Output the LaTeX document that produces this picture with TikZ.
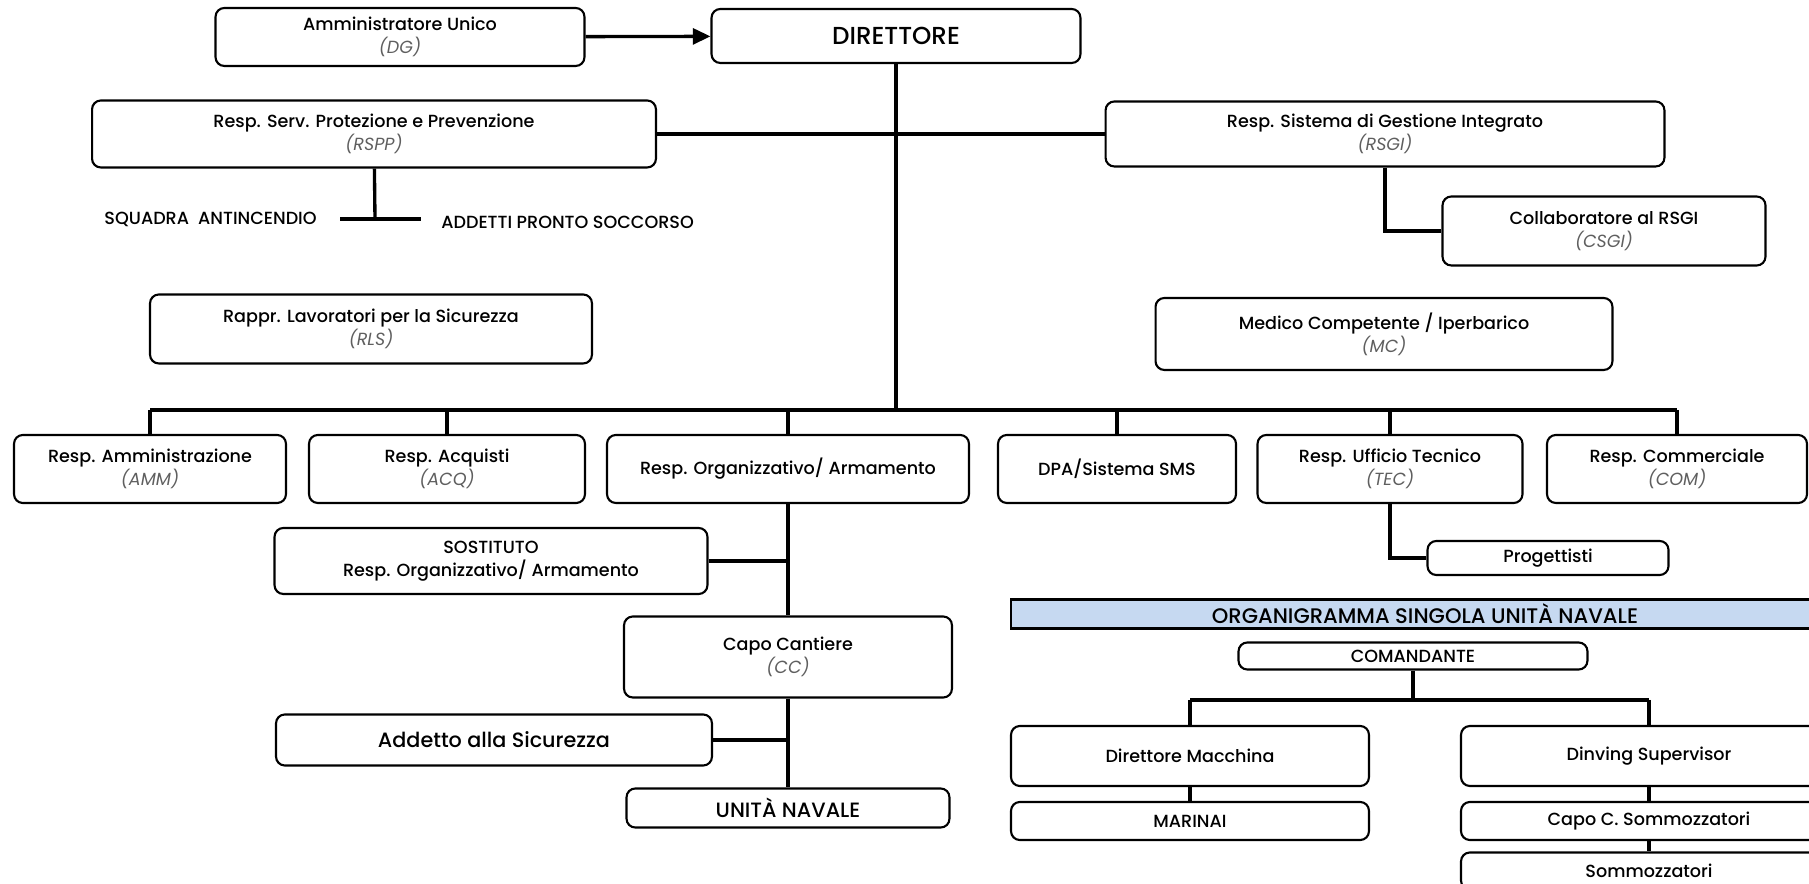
\documentclass[tikz,border=0pt]{standalone}
\usepackage{fontspec}
\setmainfont{Poppins}[UprightFont={* Medium}, ItalicFont={* Italic}]
\usetikzlibrary{arrows.meta}
\definecolor{bandblue}{HTML}{C6D9F1}
\definecolor{siglagray}{HTML}{5F5F5F}
\newcommand{\sigla}[1]{{\color{siglagray}\itshape (#1)}}

\begin{document}
\begin{tikzpicture}[
    x=0.02cm, y=-0.02cm,
    box/.style={rectangle, rounded corners=5pt, draw, line width=1.2pt, align=center, inner sep=1pt, font=\fontsize{10}{13}\selectfont},
    bigbox/.style={box, font=\fontsize{11.8}{14}\selectfont},
    band/.style={rectangle, draw, line width=1.2pt, fill=bandblue, inner sep=1pt, font=\fontsize{12}{14}\selectfont},
    label/.style={inner sep=0pt, font=\fontsize{10}{12}\selectfont},
    link/.style={line width=1.9pt}
]
\useasboundingbox (0,0) rectangle (1809,884);
\clip (0,0) rectangle (1809,884);

% vertice
\node[box, minimum width=7.38cm, minimum height=1.16cm] (adu) at (400,37) {Amministratore Unico\\\sigla{DG}};
\node[box, minimum width=7.38cm, minimum height=1.08cm, font=\fontsize{14}{16}\selectfont] (dir) at (896,36) {DIRETTORE};
\node[box, minimum width=11.28cm, minimum height=1.34cm] (rspp) at (374,134) {Resp. Serv. Protezione e Prevenzione\\\sigla{RSPP}};
\node[box, minimum width=11.18cm, minimum height=1.3cm] (rsgi) at (1385,134) {Resp. Sistema di Gestione Integrato\\\sigla{RSGI}};
\node[box, minimum width=6.46cm, minimum height=1.38cm] (csgi) at (1604,231) {Collaboratore al RSGI\\\sigla{CSGI}};
\node[box, minimum width=8.84cm, minimum height=1.38cm] (rls) at (371,329) {Rappr. Lavoratori per la Sicurezza\\\sigla{RLS}};
\node[box, minimum width=9.14cm, minimum height=1.44cm] (mc) at (1384,334) {Medico Competente / Iperbarico\\\sigla{MC}};
\node[label, anchor=east] (squadra) at (317,219) {SQUADRA\ \ ANTINCENDIO};
\node[label, anchor=west] (pronto) at (441,222) {ADDETTI PRONTO SOCCORSO};
\coordinate (rsppdown) at (375,219);
\coordinate (sqa) at (340,219);
\coordinate (sqb) at (421,219);
\coordinate (bus) at (896,410);

% responsabili
\node[box, minimum width=5.44cm, minimum height=1.36cm] (amm) at (150,469) {Resp. Amministrazione\\\sigla{AMM}};
\node[box, minimum width=5.52cm, minimum height=1.36cm] (acq) at (447,469) {Resp. Acquisti\\\sigla{ACQ}};
\node[box, minimum width=7.24cm, minimum height=1.36cm] (org) at (788,469) {Resp. Organizzativo/ Armamento};
\node[box, minimum width=4.76cm, minimum height=1.36cm] (dpa) at (1117,469) {DPA/Sistema SMS};
\node[box, minimum width=5.3cm, minimum height=1.36cm] (tec) at (1390,469) {Resp. Ufficio Tecnico\\\sigla{TEC}};
\node[box, minimum width=5.2cm, minimum height=1.36cm] (com) at (1677,469) {Resp. Commerciale\\\sigla{COM}};

% armamento
\node[box, minimum width=8.66cm, minimum height=1.32cm] (sost) at (491,561) {SOSTITUTO\\Resp. Organizzativo/ Armamento};
\node[box, minimum width=6.56cm, minimum height=1.62cm] (cc) at (788,657) {Capo Cantiere\\\sigla{CC}};
\node[bigbox, minimum width=8.72cm, minimum height=1.02cm] (adds) at (494,740) {Addetto alla Sicurezza};
\node[bigbox, minimum width=6.46cm, minimum height=0.78cm] (un) at (788,808) {UNITÀ NAVALE};
\node[box, minimum width=4.82cm, minimum height=0.68cm] (prog) at (1548,558) {Progettisti};

% unita navale
\node[band, minimum width=16.56cm, minimum height=0.58cm] (org2) at (1425,614) {ORGANIGRAMMA SINGOLA UNITÀ NAVALE};
\node[box, minimum width=6.98cm, minimum height=0.54cm] (cmd) at (1413,656) {COMANDANTE};
\node[box, minimum width=7.16cm, minimum height=1.2cm] (dm) at (1190,756) {Direttore Macchina};
\node[box, minimum width=7.52cm, minimum height=1.2cm] (ds) at (1649,756) {Dinving Supervisor};
\node[box, minimum width=7.16cm, minimum height=0.76cm] (mar) at (1190,821) {MARINAI};
\node[box, minimum width=7.52cm, minimum height=0.76cm] (capo) at (1649,821) {Capo C. Sommozzatori};
\node[box, minimum width=7.52cm, minimum height=0.74cm] (somm) at (1649,871) {Sommozzatori};
\coordinate (cmdbus) at (1413,700);

% collegamenti
\draw[link, -{Triangle[length=10pt, width=9pt]}] (adu) -- (dir);
\draw[link] (dir) -- (bus);
\draw[link] (rspp) -- (rsgi);
\draw[link] (rspp) -- (rsppdown);
\draw[link] (sqa) -- (sqb);
\draw[link] (rsgi) |- (csgi);
\draw[link] (bus -| amm) -- (bus -| com);
\foreach \n in {amm, acq, org, dpa, tec, com}
    \draw[link] (bus -| \n) -- (\n);
\draw[link] (org) -- (cc);
\draw[link] (sost) -- (sost -| org);
\draw[link] (cc) -- (un);
\draw[link] (adds) -- (adds -| cc);
\draw[link] (tec) |- (prog);
\draw[link] (cmd) -- (cmdbus);
\draw[link] (cmdbus -| dm) -- (cmdbus -| ds);
\draw[link] (cmdbus -| dm) -- (dm);
\draw[link] (cmdbus -| ds) -- (ds);
\draw[link] (dm) -- (mar);
\draw[link] (ds) -- (capo);
\draw[link] (capo) -- (somm);
\end{tikzpicture}
\end{document}
